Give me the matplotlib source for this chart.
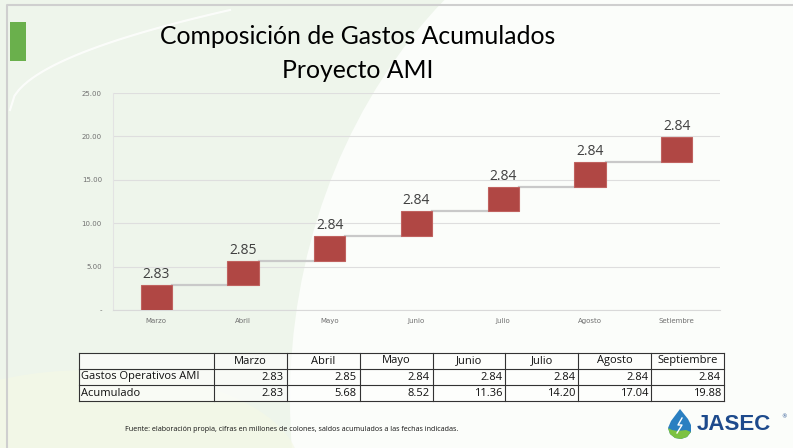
import numpy as np
import matplotlib.pyplot as plt
from matplotlib.patches import Rectangle, Ellipse, Polygon

# ---------------- data ----------------
months_axis = ["Marzo", "Abril", "Mayo", "Junio", "Julio", "Agosto", "Setiembre"]
months_table = ["Marzo", "Abril", "Mayo", "Junio", "Julio", "Agosto", "Septiembre"]
gastos = [2.83, 2.85, 2.84, 2.84, 2.84, 2.84, 2.84]
acumulado = [2.83, 5.68, 8.52, 11.36, 14.20, 17.04, 19.88]
row_labels = ["Gastos Operativos AMI", "Acumulado"]
yticks = [0, 5, 10, 15, 20, 25]

W, H = 793, 448
fig = plt.figure(figsize=(W / 100, H / 100), dpi=100)
fig.patch.set_facecolor("white")

def fx(x):
    return x / W

def fy(y):
    return 1 - y / H

# ---------------- background ----------------
bg = fig.add_axes([0, 0, 1, 1], zorder=-10)
bg.set_xlim(0, W)
bg.set_ylim(H, 0)
bg.axis("off")
bg.add_patch(Rectangle((0, 0), W, H, facecolor="#eef5eb", edgecolor="none"))
bg.add_patch(Ellipse((760, 400), 2 * 470, 2 * 540, facecolor="#fbfdfa", edgecolor="none"))
bg.add_patch(Ellipse((90, 470), 420, 200, facecolor="#f5f8e6", edgecolor="none", alpha=0.7))
t = np.linspace(0.0, 1.0, 50)
bg.plot(10 + 220 * t, 110 - 100 * np.sqrt(t), color="white", lw=1.5, alpha=0.8)
bg.plot([7, 7, W], [H, 5, 5], color="#cfcfcf", lw=1.5)
bg.add_patch(Rectangle((10, 22), 16, 39, facecolor="#6ab04c", edgecolor="none"))

# ---------------- title ----------------
fig.text(fx(358), fy(37), "Composición de Gastos Acumulados", ha="center", va="center",
         fontsize=17.8, family="Lato", color="#000000")
fig.text(fx(358), fy(70), "Proyecto AMI", ha="center", va="center",
         fontsize=17.8, family="Lato", color="#000000")

# ---------------- waterfall chart ----------------
ax = fig.add_axes([fx(113), fy(310), fx(720) - fx(113), fy(93) - fy(310)])
ax.set_facecolor("none")
x = np.arange(len(months_axis))
bottoms = [a - g for a, g in zip(acumulado, gastos)]
bw = 0.36
ax.bar(x, gastos, bottom=bottoms, width=bw, color="#b04744", edgecolor="#c0625f",
       linewidth=0.8, zorder=3)
for i in range(len(x) - 1):
    ax.plot([x[i] + bw / 2, x[i + 1] - bw / 2], [acumulado[i], acumulado[i]],
            color="#c9c9c9", lw=1.6, zorder=2)
for xi, g, a in zip(x, gastos, acumulado):
    ax.text(xi, a + 0.35, f"{g:.2f}", ha="center", va="bottom", fontsize=10,
            family="Open Sans", color="#404040", zorder=4)

ax.set_xlim(-0.5, len(x) - 0.5)
ax.set_ylim(0, 25)
ax.set_yticks(yticks)
ax.set_yticklabels(["-" if v == 0 else f"{v:.2f}" for v in yticks])
ax.set_xticks(x)
ax.set_xticklabels(months_axis)
ax.tick_params(axis="both", length=0, labelsize=5, colors="#707070")
ax.tick_params(axis="y", pad=8)
ax.tick_params(axis="x", pad=6)
ax.yaxis.grid(True, color="#dedede", lw=0.8, zorder=0)
for s in ["top", "right"]:
    ax.spines[s].set_visible(False)
ax.spines["left"].set_color("#e3e3e3")
ax.spines["bottom"].set_color("#d9d9d9")

# ---------------- table ----------------
tx0, tx1, ty0, ty1 = 79, 724, 353, 401
first_w = 135
col_w = (tx1 - tx0 - first_w) / len(months_table)
row_h = (ty1 - ty0) / 3
tab = fig.add_axes([0, 0, 1, 1], zorder=5)
tab.set_xlim(0, W)
tab.set_ylim(H, 0)
tab.axis("off")
tab.add_patch(Rectangle((tx0, ty0), tx1 - tx0, ty1 - ty0, facecolor="white",
                        edgecolor="none", alpha=0.6))
xs = [tx0, tx0 + first_w] + [tx0 + first_w + col_w * (k + 1) for k in range(len(months_table))]
for xv in xs:
    tab.plot([xv, xv], [ty0, ty1], color="#333333", lw=0.8)
for r in range(4):
    yv = ty0 + r * row_h
    tab.plot([tx0, tx1], [yv, yv], color="#333333", lw=0.8)
tfont = dict(fontsize=8, family="Open Sans", color="#111111", va="center")
for k, m in enumerate(months_table):
    tab.text((xs[k + 1] + xs[k + 2]) / 2, ty0 + row_h / 2, m, ha="center", **tfont)
rows = [gastos, acumulado]
for r, (lab, vals) in enumerate(zip(row_labels, rows)):
    yc = ty0 + (r + 1.5) * row_h
    tab.text(tx0 + 2, yc, lab, ha="left", **tfont)
    for k, v in enumerate(vals):
        tab.text(xs[k + 2] - 3, yc, f"{v:.2f}", ha="right", **tfont)

# ---------------- footer ----------------
fig.text(fx(125), fy(429), "Fuente: elaboración propia, cifras en millones de colones, saldos acumulados a las fechas indicadas.",
         ha="left", va="center", fontsize=5.15, family="Open Sans", color="#111111")

# logo
lg = fig.add_axes([0, 0, 1, 1], zorder=6)
lg.set_xlim(0, W)
lg.set_ylim(H, 0)
lg.axis("off")
drop = Polygon([[680, 409], [671, 421], [668, 428], [670, 434], [675, 438], [681, 439],
                [687, 437], [691, 432], [691, 425], [688, 419]], closed=True,
               facecolor="#2a7fc1", edgecolor="none")
lg.add_patch(drop)
leaf = Polygon([[668, 428], [670, 434], [675, 438], [681, 439], [687, 437], [691, 432],
                [686, 430], [678, 431], [672, 430]], closed=True, facecolor="#7cc242", edgecolor="none")
lg.add_patch(leaf)
lg.plot([682, 678, 682, 677], [418, 425, 425, 433], color="white", lw=1.0)
lg.text(697, 425, "JASEC", ha="left", va="center", fontsize=16, fontweight="bold",
        family="Liberation Sans", color="#1d4a8c")
lg.text(781, 417, "®", ha="left", va="center", fontsize=4, color="#1d4a8c")

fig.savefig("out.png", dpi=100)
